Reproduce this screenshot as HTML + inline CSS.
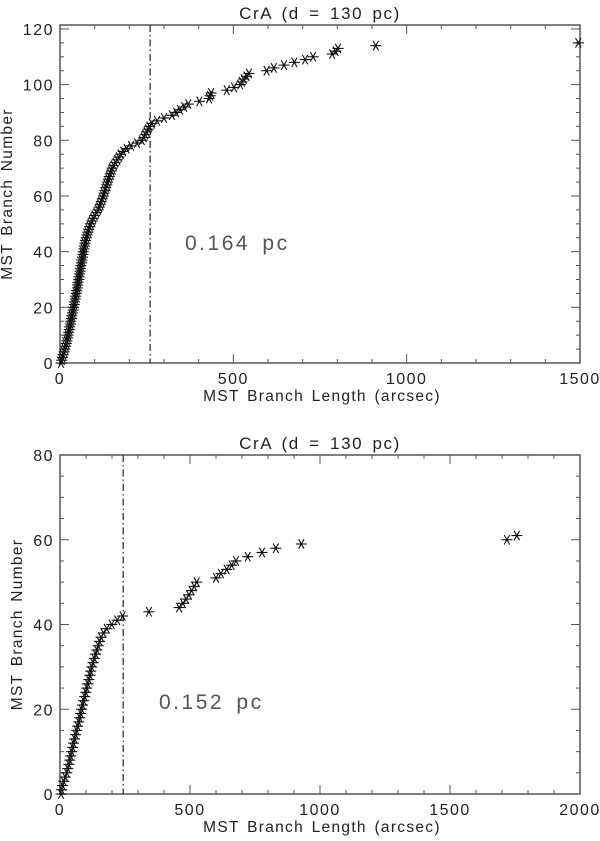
<!DOCTYPE html>
<html><head><meta charset="utf-8"><style>
body{margin:0;background:#fff}
svg{display:block}
text{font-family:"Liberation Sans",sans-serif;fill:#222}
</style></head><body>
<svg id="c" width="600" height="841"></svg>
<script>
const topLengths=[3,5,7,9,12,14,16,18,20,22,23,25,27,28,30,31,33,34,36,38,39,41,42,44,45,47,48,50,51,52,54,55,56,58,59,60,62,63,65,66,67,69,70,72,74,76,78,80,83,86,88,92,96,100,105,110,113,116,119,122,125,127,130,132,135,137,140,142,145,148,150,155,160,165,170,175,182,192,205,222,236,242,246,250,254,258,265,280,300,323,335,346,358,370,402,430,433,436,481,502,520,525,530,538,545,596,617,646,676,707,730,785,795,802,911,1495];
const botLengths=[4,6,10,14,20,26,30,34,38,41,45,49,52,56,60,64,68,72,76,80,83,87,91,95,99,103,107,111,115,118,122,127,132,137,142,147,152,158,167,180,199,220,241,342,458,473,485,496,506,516,526,600,619,641,660,677,722,777,830,928,1719,1757];
const topXTicks=[0,500,1000,1500];
const topYTicks=[0,20,40,60,80,100,120];
const botXTicks=[0,500,1000,1500,2000];
const botYTicks=[0,20,40,60,80];
const topCut=[260];
const botCut=[243];
const NS='http://www.w3.org/2000/svg';
const svg=document.getElementById('c');
function mk(t,a,p){const e=document.createElementNS(NS,t);for(const k in a)e.setAttribute(k,a[k]);(p||svg).appendChild(e);return e;}
function panel(o){
 const g=mk('g',{});
 
 
 const L=60,R=580,T=o.top,B=o.bot;
 const sx=v=>L+(v/o.xmax)*(R-L);
 const sy=v=>o.y0-(v/o.ymax)*(o.y0-o.y120);
 const fr=mk('rect',{x:L,y:T,width:R-L,height:B-T,fill:'none',stroke:'#555','stroke-width':1.5},g);
 
 for(let v=0;v<=o.xmax;v+=100){const x=sx(v);const len=v%500==0?9:4;
  mk('line',{x1:x,x2:x,y1:B,y2:B-len,stroke:'#555'},g);mk('line',{x1:x,x2:x,y1:T,y2:T+len,stroke:'#555'},g);}
 for(let v=0;v<=o.ymax+0.01;v+=5){const y=sy(v);if(y<T-0.5)continue;const len=v%20==0?9:4;
  mk('line',{x1:L,x2:L+len,y1:y,y2:y,stroke:'#555'},g);mk('line',{x1:R,x2:R-len,y1:y,y2:y,stroke:'#555'},g);}
 o.xt.forEach(v=>{const t=mk('text',{x:sx(v),y:B+21,'text-anchor':'middle','font-size':16,'letter-spacing':1.5},g);t.textContent=v;
  });
 o.yt.forEach(v=>{const t=mk('text',{x:L-6,y:sy(v)+6,'text-anchor':'end','font-size':16,'letter-spacing':1.5},g);t.textContent=v;
  });
 const tt=mk('text',{x:320,y:T-6,'text-anchor':'middle','font-size':17,'letter-spacing':1.6,'word-spacing':3},g);tt.textContent='CrA (d = 130 pc)';
 
 const xl=mk('text',{x:322,y:B+38,'text-anchor':'middle','font-size':15.5,'letter-spacing':1.3,'word-spacing':2},g);xl.textContent='MST Branch Length (arcsec)';
 
 const yc=(T+B)/2;
 const yl=mk('text',{x:o.ytx,y:yc,'text-anchor':'middle','font-size':15.5,'letter-spacing':1.3,'word-spacing':2,transform:`rotate(-90 ${o.ytx} ${yc})`},g);yl.textContent='MST Branch Number';
 
 const cx=sx(o.cut[0]);
 const cl=mk('line',{x1:cx,x2:cx,y1:T,y2:B,stroke:'#222','stroke-width':1.2,'stroke-dasharray':'7 3 1.5 3'},g);
 
 const an=mk('text',{x:o.ax,y:o.ay,'font-size':21,'letter-spacing':2.5,'word-spacing':4},g);an.textContent=o.label;
 an.style.fill='#555';
 
 o.data.forEach((len,i)=>{const x=sx(len),y=sy(i),r=5.5;
  const m=mk('g',{stroke:'#111','stroke-width':1.1},g);
  
  mk('line',{x1:x-r,x2:x+r,y1:y,y2:y},m);
  mk('line',{x1:x-r*0.5,x2:x+r*0.5,y1:y-r*0.87,y2:y+r*0.87},m);
  mk('line',{x1:x+r*0.5,x2:x-r*0.5,y1:y-r*0.87,y2:y+r*0.87},m);
  mk('circle',{cx:x,cy:y,r:1.3,fill:'#111',stroke:'none'},m);});
}
panel({name:'top-panel',top:25,bot:363,y0:363,y120:27,ymax:120.7,xmax:1500,xt:topXTicks,yt:topYTicks,data:topLengths,cut:topCut,label:'0.164 pc',ax:185,ay:250,ytx:12});
panel({name:'bottom-panel',top:455,bot:794,y0:794,y120:455,ymax:80,xmax:2000,xt:botXTicks,yt:botYTicks,data:botLengths,cut:botCut,label:'0.152 pc',ax:159,ay:709,ytx:22});
</script>
</body></html>
